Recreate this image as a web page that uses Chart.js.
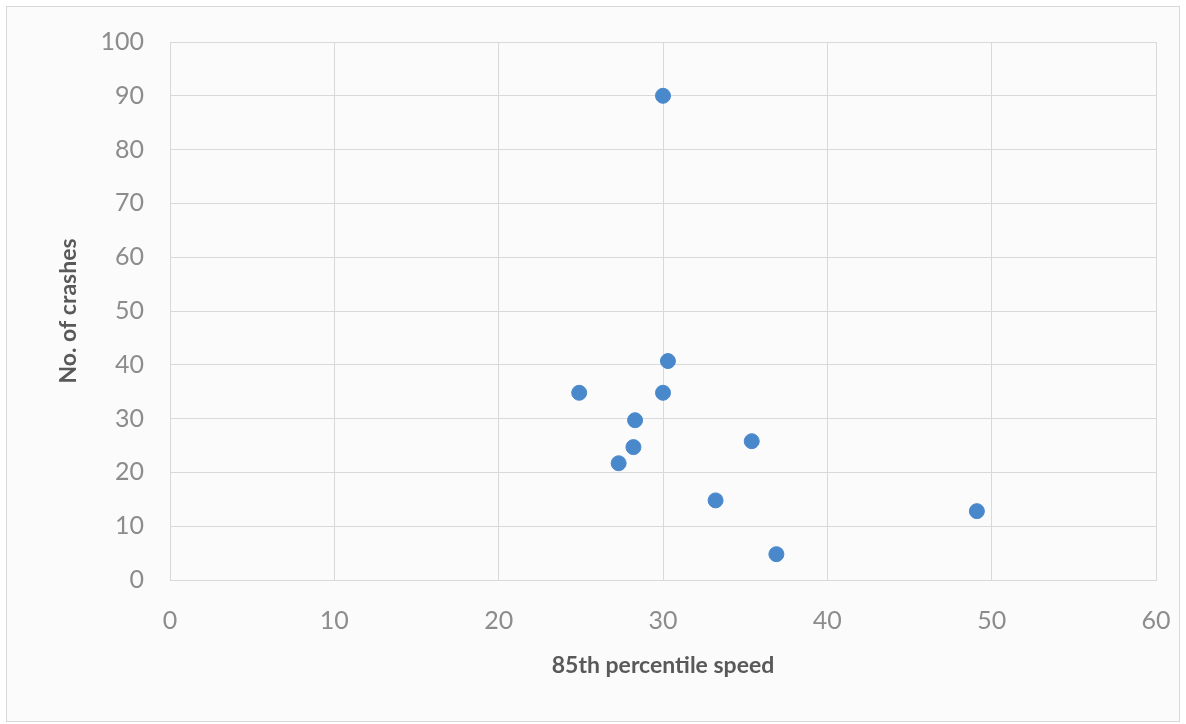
<!DOCTYPE html>
<html>
<head>
  <meta charset="utf-8">
  <title>Crashes vs 85th percentile speed</title>
  <script src="https://cdn.jsdelivr.net/npm/chart.js"></script>
  <style>
    body {
      margin: 0;
      background: #ffffff;
    }
    .frame {
      position: absolute;
      left: 6px;
      top: 6px;
      width: 1172px;
      height: 714px;
      border: 1px solid #d9d9d9;
      background: #fbfbfb;
    }
    .chart-wrapper {
      position: absolute;
      left: 0;
      top: 0;
      width: 1186px;
      height: 724px;
    }
  </style>
</head>
<body>
  <div class="frame"></div>
  <div class="chart-wrapper">
    <canvas id="scatterChart"></canvas>
  </div>

  <script>
    // values
    const speeds  = [30.0, 30.3, 24.9, 30.0, 28.3, 28.2, 27.3, 35.4, 33.2, 49.1, 36.9];
    const crashes = [90,   40.7, 34.8, 34.8, 29.7, 24.7, 21.7, 25.8, 14.8, 12.8, 4.8];
    const xTicks = [0, 10, 20, 30, 40, 50, 60];
    const yTicks = [0, 10, 20, 30, 40, 50, 60, 70, 80, 90, 100];

    const points = speeds.map((s, i) => ({ x: s, y: crashes[i] }));

    const tickFont = { family: 'Lato', size: 25 };
    const titleFont = { family: 'Lato', size: 23, weight: 'bold' };

    new Chart(document.getElementById('scatterChart').getContext('2d'), {
      type: 'scatter',
      data: {
        datasets: [{
          label: 'No. of crashes',
          data: points,
          backgroundColor: '#4a88cc',
          borderColor: '#4a88cc',
          pointRadius: 7.5,
          pointHoverRadius: 7.5
        }]
      },
      options: {
        responsive: true,
        maintainAspectRatio: false,
        animation: false,
        layout: { padding: { left: 55, top: 42, right: 30, bottom: 45 } },
        plugins: {
          legend: { display: false },
          tooltip: { enabled: false }
        },
        scales: {
          x: {
            type: 'linear',
            min: xTicks[0],
            max: xTicks[xTicks.length - 1],
            afterBuildTicks: axis => { axis.ticks = xTicks.map(v => ({ value: v })); },
            afterFit: axis => {
              axis.height = 99;
              axis.paddingRight = 0;   // keep plot right edge where the reference has it
            },
            grid: { color: '#d9d9d9', drawTicks: false },
            border: { color: '#d9d9d9' },
            ticks: { color: '#8c8c8c', font: tickFont, padding: 26 },
            title: {
              display: true,
              text: '85th percentile speed',
              color: '#595959',
              font: titleFont,
              padding: { top: 8, bottom: 0 }
            }
          },
          y: {
            type: 'linear',
            min: yTicks[0],
            max: yTicks[yTicks.length - 1],
            afterBuildTicks: axis => { axis.ticks = yTicks.map(v => ({ value: v })); },
            afterFit: axis => { axis.width = 115; },
            grid: { color: '#d9d9d9', drawTicks: false },
            border: { color: '#d9d9d9' },
            ticks: { color: '#8c8c8c', font: tickFont, padding: 26 },
            title: {
              display: true,
              text: 'No. of crashes',
              color: '#595959',
              font: titleFont,
              padding: { top: 0, bottom: 0 }
            }
          }
        }
      }
    });
  </script>
</body>
</html>
